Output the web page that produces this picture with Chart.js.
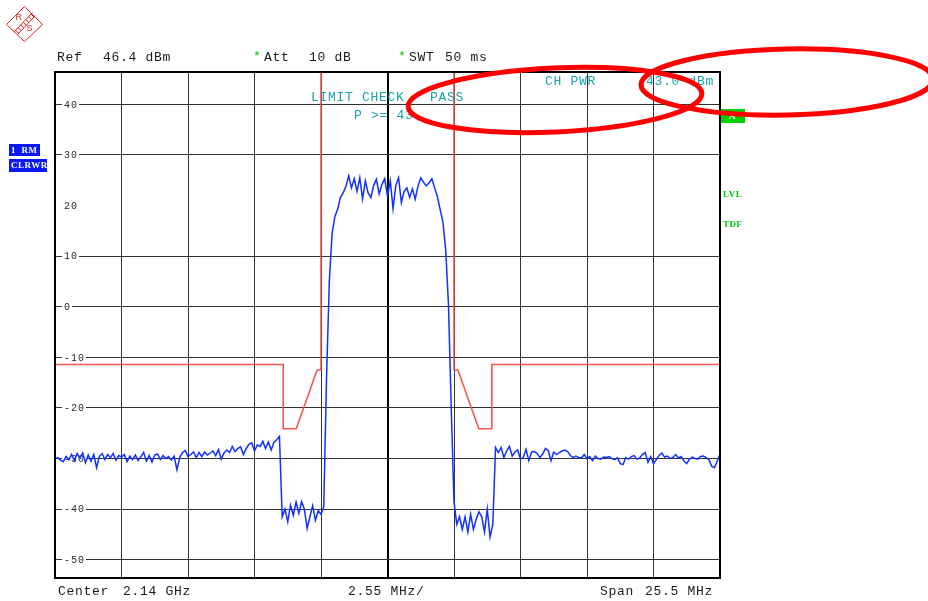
<!DOCTYPE html>
<html>
<head>
<meta charset="utf-8">
<script src="https://cdn.jsdelivr.net/npm/chart.js@4.4.0/dist/chart.umd.min.js"></script>
<style>
  html, body { margin: 0; padding: 0; background: #fff; }
  #wrap { width: 928px; height: 601px; }
</style>
</head>
<body>
<div id="wrap"><canvas id="spectrum" width="928" height="601"></canvas></div>
<script>
// sweep: center 2.14 GHz, span 25.5 MHz, x in MHz from center
const spanMHz = 25.5;
const refLevel = 46.4;
const bottomLevel = -53.6;

const xTicks = [-12.75, -10.2, -7.65, -5.1, -2.55, 0, 2.55, 5.1, 7.65, 10.2, 12.75];
const yTicks = [40, 30, 20, 10, 0, -10, -20, -30, -40, -50];
const yTickLabels = ['40', '30', '20', '10', '0', '-10', '-20', '-30', '-40', '-50'];

// trace 1 (RM / CLRWR), dBm, 241 sweep points
const floorLeft = [
  -30.0, -29.8, -30.3, -30.6, -29.6, -30.2, -29.2, -30.4, -29.0, -29.9,
  -28.9, -30.8, -29.3, -30.5, -29.2, -31.8, -29.6, -29.0, -30.2, -29.2,
  -29.8, -29.0, -30.3, -29.4, -29.7, -29.2, -30.6, -29.5, -30.2, -29.3,
  -30.4, -29.6, -28.8, -30.5, -29.4, -30.7, -29.3, -29.1, -30.2, -29.4,
  -30.0, -29.6, -30.3, -29.5, -32.2, -29.8, -28.8, -28.4, -29.6, -29.2,
  -28.7, -29.8, -28.8, -29.6, -28.7, -29.3, -28.9, -28.5, -29.4, -28.2,
  -30.1, -28.9, -28.3, -28.8, -27.6, -28.6, -28.0, -27.7, -29.2, -28.0,
  -27.2, -26.9, -28.5, -27.3, -27.6, -26.6, -28.0, -26.7, -28.3, -26.8,
  -26.3, -25.6
];
const adjLeft = [
  -41.5, -40.0, -42.5, -39.2, -41.2, -38.6, -40.8, -38.5, -40.0, -43.8,
  -41.5, -39.3, -42.2, -40.3, -41.0, -39.5
];
const carrier = [
  -14.0, 5.0, 14.5, 17.8, 19.3, 21.6, 22.5, 23.8,
  25.9, 23.5, 25.3, 22.8, 25.5, 21.3, 24.9, 22.5, 21.6, 24.0,
  25.2, 22.3, 24.2, 25.3, 21.9, 24.9, 19.4, 24.0, 25.5, 20.6,
  22.8, 23.5, 21.6, 23.3, 21.3, 23.8, 25.5, 24.6, 23.9, 24.5,
  25.3, 23.5,
  21.8, 19.2, 16.8, 11.3, 0.5, -20.0, -38.5
];
const adjRight = [
  -43.0, -41.5, -44.0, -41.5, -44.5, -41.0, -44.0, -42.0, -40.5, -41.5,
  -44.5, -40.0, -45.5, -43.0
];
const floorRight = [
  -27.8, -28.8, -27.8, -29.8, -28.5, -27.6, -29.5, -28.7, -28.3, -30.1,
  -29.8, -28.2, -30.4, -28.7, -28.6, -29.0, -29.8, -29.1, -28.0, -28.4,
  -30.4, -28.7, -29.2, -28.8, -28.5, -28.3, -28.6, -29.4, -29.8, -29.5,
  -29.8, -29.9, -29.2, -30.0, -29.6, -30.4, -29.5, -30.0, -30.1, -29.7,
  -29.8, -29.6, -30.0, -30.2, -29.8, -31.0, -31.2, -29.8, -30.1, -29.6,
  -29.4, -30.1, -29.9, -29.2, -28.8, -30.7, -29.6, -31.0, -30.2, -29.4,
  -28.9, -29.7, -29.5, -30.0, -29.8, -29.2, -29.9, -29.6, -30.5, -31.0,
  -30.1, -29.7, -30.0, -30.1, -29.6, -29.5, -29.8, -30.2, -31.5, -31.8,
  -30.5, -29.1
];

// limit line (spectrum emission mask), MHz / dBm
const limitFreq = [-12.75, -4.0, -4.0, -3.5, -2.7, -2.55, -2.55, 0, 2.55, 2.55, 2.7, 3.5, 4.0, 4.0, 12.75];
const limitDb   = [-11.4, -11.4, -24.1, -24.1, -12.5, -12.5, 46.4, null, 46.4, -12.5, -12.5, -24.1, -24.1, -11.4, -11.4];

const trace = [...floorLeft, ...adjLeft, ...carrier, ...adjRight, ...floorRight];
const fStep = spanMHz / (trace.length - 1);
const traceData = trace.map((v, i) => ({ x: -spanMHz / 2 + i * fStep, y: v }));
const limitData = limitFreq.map((f, i) => ({ x: f, y: limitDb[i] }));

function txt(ctx, s, x, y, font, color, spacing) {
  ctx.font = font;
  ctx.fillStyle = color;
  ctx.letterSpacing = (spacing || 0) + 'px';
  ctx.fillText(s, x, y);
  ctx.letterSpacing = '0px';
}

const screenText = {
  id: 'screenText',
  beforeDatasetsDraw(chart) {
    const { ctx, chartArea, scales } = chart;
    ctx.save();
    ctx.textBaseline = 'middle';
    ctx.font = '10px "Liberation Mono"';
    ctx.letterSpacing = '1px';
    yTicks.forEach((v, k) => {
      const py = scales.y.getPixelForValue(v);
      const label = yTickLabels[k];
      const lx = chartArea.left + 9;
      const w = ctx.measureText(label).width;
      ctx.fillStyle = '#fff';
      ctx.fillRect(lx - 2, py - 4, w + 3, 9);
      ctx.fillStyle = '#2a2a2a';
      ctx.fillText(label, lx, py + 0.5);
    });
    ctx.letterSpacing = '0px';
    ctx.restore();
  },
  afterDraw(chart) {
    const { ctx, chartArea } = chart;
    ctx.save();

    // frame
    ctx.strokeStyle = '#000';
    ctx.lineWidth = 2;
    ctx.strokeRect(chartArea.left, chartArea.top, chartArea.right - chartArea.left, chartArea.bottom - chartArea.top);

    ctx.textBaseline = 'middle';
    const mono = '13px "Liberation Mono"';
    // header
    txt(ctx, 'Ref', 57, 58, mono, '#1a1a1a', 0.7);
    txt(ctx, '46.4 dBm', 103, 58, mono, '#1a1a1a', 0.7);
    txt(ctx, '*', 253, 57, mono, '#00c000', 0);
    txt(ctx, 'Att', 264, 58, mono, '#1a1a1a', 0.7);
    txt(ctx, '10 dB', 309, 58, mono, '#1a1a1a', 0.7);
    txt(ctx, '*', 398, 57, mono, '#00c000', 0);
    txt(ctx, 'SWT', 409, 58, mono, '#1a1a1a', 0.7);
    txt(ctx, '50 ms', 445, 58, mono, '#1a1a1a', 0.7);

    // in-screen readouts
    const teal = '#1aa3ab';
    txt(ctx, 'LIMIT CHECK', 311, 98, mono, teal, 0.7);
    txt(ctx, 'PASS', 430, 98, mono, teal, 0.7);
    txt(ctx, 'P >= 43', 354, 116, mono, teal, 0.7);
    txt(ctx, 'CH PWR', 545, 82, mono, teal, 0.7);
    txt(ctx, '43.0 dBm', 646, 82, mono, teal, 0.7);

    // footer
    txt(ctx, 'Center', 58, 592, mono, '#1a1a1a', 0.7);
    txt(ctx, '2.14 GHz', 123, 592, mono, '#1a1a1a', 0.7);
    txt(ctx, '2.55 MHz/', 348, 592, mono, '#1a1a1a', 0.7);
    txt(ctx, 'Span', 600, 592, mono, '#1a1a1a', 0.7);
    txt(ctx, '25.5 MHz', 645, 592, mono, '#1a1a1a', 0.7);

    // trace info boxes
    const small = 'bold 9px "Liberation Serif"';
    ctx.fillStyle = '#0a18f2';
    ctx.fillRect(9, 144, 31, 12);
    ctx.fillRect(9, 159, 38, 13);
    txt(ctx, '1  RM', 11, 150.5, small, '#fff', 0.5);
    txt(ctx, 'CLRWR', 11, 165.5, small, '#fff', 0.5);

    // right side enhancement labels
    ctx.fillStyle = '#00d000';
    ctx.fillRect(721, 109, 24, 14);
    txt(ctx, 'A', 729, 116.5, small, '#fff', 0);
    txt(ctx, 'LVL', 723, 194.5, small, '#00c800', 0.5);
    txt(ctx, 'TDF', 723, 225, small, '#00c800', 0.5);

    // R&S logo
    ctx.strokeStyle = '#d42020';
    ctx.lineWidth = 1;
    ctx.beginPath();
    ctx.moveTo(24.5, 6.5); ctx.lineTo(42.5, 24.5); ctx.lineTo(24.5, 41.5); ctx.lineTo(6.5, 24.5); ctx.closePath();
    ctx.stroke();
    ctx.beginPath();
    ctx.moveTo(32.5, 12.5); ctx.lineTo(14.5, 31.5);
    ctx.moveTo(35.5, 15.5); ctx.lineTo(17.5, 34.5);
    for (let k = 0; k < 7; k++) {
      const cx = 31 - k * 2.6, cy = 14 + k * 2.7;
      ctx.moveTo(cx, cy); ctx.lineTo(cx + 3, cy + 3);
    }
    ctx.stroke();
    txt(ctx, 'R', 15.5, 18, '9px "Liberation Sans"', '#d42020', 0);
    txt(ctx, 'S', 26.5, 29, '9px "Liberation Sans"', '#d42020', 0);

    // hand-drawn red ellipses over the screenshot
    ctx.strokeStyle = '#ff0000';
    ctx.lineWidth = 5;
    ctx.beginPath();
    ctx.ellipse(555, 100, 147, 32, -0.045, 0, Math.PI * 2);
    ctx.stroke();
    ctx.beginPath();
    ctx.ellipse(787, 82, 146, 33, -0.02, 0, Math.PI * 2);
    ctx.stroke();

    ctx.restore();
  }
};

new Chart(document.getElementById('spectrum'), {
  type: 'line',
  data: {
    datasets: [
      {
        label: 'Limit',
        data: limitData,
        borderColor: 'rgba(245, 70, 60, 0.9)',
        borderWidth: 1.6,
        pointRadius: 0,
        tension: 0,
        spanGaps: false
      },
      {
        label: 'Trace 1',
        data: traceData,
        borderColor: '#1230ff',
        borderWidth: 1.5,
        pointRadius: 0,
        tension: 0
      }
    ]
  },
  options: {
    responsive: false,
    animation: false,
    devicePixelRatio: 1,
    layout: { padding: { left: 55, top: 72, right: 208, bottom: 23 } },
    plugins: { legend: { display: false }, tooltip: { enabled: false } },
    scales: {
      x: {
        type: 'linear',
        min: -spanMHz / 2,
        max: spanMHz / 2,
        afterBuildTicks: (scale) => { scale.ticks = xTicks.map(v => ({ value: v })); },
        ticks: { display: false },
        border: { display: false },
        grid: {
          drawTicks: false,
          color: (c) => c.tick && c.tick.value === 0 ? '#000' : '#333',
          lineWidth: (c) => c.tick && c.tick.value === 0 ? 2 : 1
        }
      },
      y: {
        min: bottomLevel,
        max: refLevel,
        afterBuildTicks: (scale) => { scale.ticks = yTicks.map(v => ({ value: v })); },
        ticks: { display: false },
        border: { display: false },
        grid: {
          drawTicks: false,
          color: (c) => c.tick && c.tick.value === 20 ? 'rgba(0,0,0,0)' : '#333',
          lineWidth: 1
        }
      }
    }
  },
  plugins: [screenText]
});
</script>
</body>
</html>
